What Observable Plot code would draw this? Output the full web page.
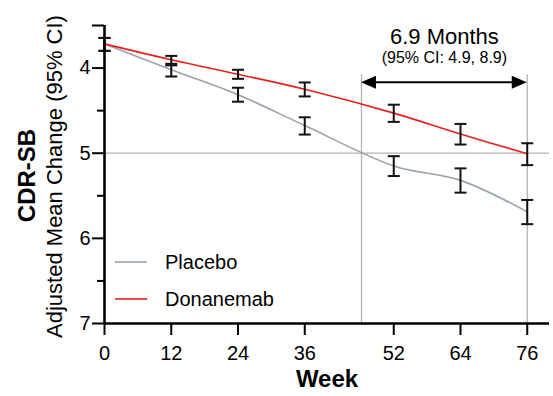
<!DOCTYPE html>
<html>
<head>
<meta charset="utf-8">
<script src="https://cdn.jsdelivr.net/npm/d3@7"></script>
<script src="https://cdn.jsdelivr.net/npm/@observablehq/plot@0.6"></script>
<style>
  html, body { margin: 0; padding: 0; background: #fff; }
  #chart svg { display: block; }
</style>
</head>
<body>
<div id="chart"></div>
<script>
// ---- Data ----
const weeks = [0, 12, 24, 36, 52, 64, 76];
const xTicks = [0, 12, 24, 36, 52, 64, 76];
const yMajorTicks = [4, 5, 6, 7];
const yMinorTicks = [4.5, 5.5, 6.5];
const seriesNames = ["Placebo", "Donanemab"];
const seriesColors = ["#98a3ab", "#e8201c"];

const placeboMean = [3.716, 4.020, 4.313, 4.675, 5.149, 5.319, 5.689];
const placeboLow  = [3.646, 3.968, 4.231, 4.578, 5.035, 5.178, 5.549];
const placeboHigh = [3.798, 4.099, 4.395, 4.781, 5.268, 5.463, 5.833];

const donaMean = [3.716, 3.903, 4.073, 4.249, 4.529, 4.775, 5.006];
const donaLow  = [3.646, 3.857, 4.020, 4.169, 4.430, 4.656, 4.883];
const donaHigh = [3.798, 3.950, 4.126, 4.333, 4.632, 4.898, 5.140];

// annotation
const refLevel = 5;          // horizontal reference line
const crossWeek = 46.2;      // week at which placebo reaches 5.0
const endWeek = 76;
const arrowLevel = 4.172;
const guideTop = 4.079;
const annoTitle = "6.9 Months";
const annoSub = "(95% CI: 4.9, 8.9)";
const titleLevel = 3.64;
const subLevel = 3.885;

// ---- Build table ----
const rows = [];
weeks.forEach((w, i) => {
  rows.push({week: w, series: "Placebo", mean: placeboMean[i], lo: placeboLow[i], hi: placeboHigh[i]});
  rows.push({week: w, series: "Donanemab", mean: donaMean[i], lo: donaLow[i], hi: donaHigh[i]});
});

const hline = {
  draw(context, size) {
    const r = Math.sqrt(size / Math.PI);
    context.moveTo(-r, 0);
    context.lineTo(r, 0);
  }
};

function arrowMark(index, scales) {
  const {x, y} = scales;
  const g = d3.create("svg:g");
  const yy = y(arrowLevel), xl = x(crossWeek), xr = x(endWeek);
  g.append("line").attr("x1", xl + 8).attr("x2", xr - 8).attr("y1", yy).attr("y2", yy)
    .attr("stroke", "#000").attr("stroke-width", 2);
  g.append("path").attr("d", `M${xl},${yy}L${xl + 15},${yy - 6.5}L${xl + 15},${yy + 6.5}Z`).attr("fill", "#000");
  g.append("path").attr("d", `M${xr},${yy}L${xr - 15},${yy - 6.5}L${xr - 15},${yy + 6.5}Z`).attr("fill", "#000");
  return g.node();
}

function legendMark(index, scales, values, dims) {
  const g = d3.create("svg:g");
  const x0 = dims.marginLeft;
  const yb = dims.height - dims.marginBottom;
  seriesNames.forEach((name, i) => {
    const yy = yb - 61 + i * 37;
    g.append("line").attr("x1", x0 + 11).attr("x2", x0 + 43).attr("y1", yy).attr("y2", yy)
      .attr("stroke", seriesColors[i]).attr("stroke-width", 1.6);
    g.append("text").attr("x", x0 + 61).attr("y", yy).attr("dy", "0.36em")
      .attr("text-anchor", "start")
      .attr("font-size", 20).attr("fill", "#000").text(name);
  });
  return g.node();
}

const chart = Plot.plot({
  width: 553,
  height: 396,
  marginLeft: 104,
  marginRight: 4,
  marginTop: 25,
  marginBottom: 73,
  style: {fontFamily: "'Liberation Sans', Arial, sans-serif", fontSize: "20px", color: "#000", background: "#fff"},
  x: {domain: [0, 80]},
  y: {domain: [3.5, 7], reverse: true},
  color: {domain: seriesNames, range: seriesColors},
  marks: [
    // reference grid lines
    Plot.ruleY([refLevel], {stroke: "#b3b3b3", strokeWidth: 1.3}),
    Plot.ruleX([crossWeek, endWeek], {y1: guideTop, y2: 7, stroke: "#b3b3b3", strokeWidth: 1.3}),
    // lines
    Plot.line(rows, {x: "week", y: "mean", z: "series", stroke: "series", strokeWidth: 1.6, curve: "catmull-rom"}),
    // error bars
    Plot.ruleX(rows, {x: "week", y1: "lo", y2: "hi", stroke: "#111", strokeWidth: 2}),
    Plot.dot(rows, {x: "week", y: "lo", symbol: hline, r: 6, stroke: "#111", strokeWidth: 2}),
    Plot.dot(rows, {x: "week", y: "hi", symbol: hline, r: 6, stroke: "#111", strokeWidth: 2}),
    // axes
    Plot.ruleX([0], {stroke: "#000", strokeWidth: 2.6}),
    Plot.ruleY([7], {stroke: "#000", strokeWidth: 2.6}),
    Plot.axisY({ticks: yMajorTicks, tickFormat: d => String(d), tickSize: 12, tickPadding: 2, strokeWidth: 2, fontSize: 20, label: null}),
    Plot.axisY({ticks: yMinorTicks, tickSize: 7, strokeWidth: 2, text: null, label: null}),
    Plot.axisY({ticks: [3.5], tickSize: 12, strokeWidth: 2, text: null, label: null}),
    Plot.axisX({ticks: xTicks, tickFormat: d => String(d), tickSize: 12, tickPadding: 10, strokeWidth: 2, fontSize: 20, label: null}),
    // axis titles
    Plot.text(["CDR-SB"], {frameAnchor: "left", textAnchor: "middle", dx: -77.5, dy: 1, rotate: -90, fontWeight: "bold", fontSize: 24, text: d => d}),
    Plot.text(["Adjusted Mean Change (95% CI)"], {frameAnchor: "left", textAnchor: "middle", dx: -50, dy: 2, rotate: -90, fontSize: 22, text: d => d}),
    Plot.text(["Week"], {frameAnchor: "bottom", dy: 63, fontWeight: "bold", fontSize: 24, text: d => d}),
    // annotation
    arrowMark,
    Plot.text([annoTitle], {x: (crossWeek + endWeek) / 2, y: titleLevel, fontSize: 22, text: d => d}),
    Plot.text([annoSub], {x: (crossWeek + endWeek) / 2, y: subLevel, fontSize: 16, text: d => d}),
    legendMark
  ]
});

document.getElementById("chart").appendChild(chart);
</script>
</body>
</html>
